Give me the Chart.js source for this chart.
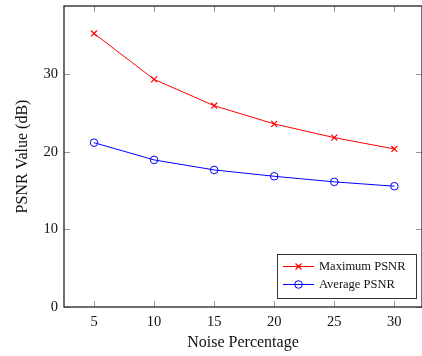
<!DOCTYPE html>
<html><head><meta charset="utf-8">
<script src="https://cdn.jsdelivr.net/npm/chart.js@4/dist/chart.umd.min.js"></script>
<style>html,body{margin:0;padding:0;background:#fff;overflow:hidden}#wrap{width:422px;height:356px}</style>
</head><body><div id="wrap"><canvas id="c" width="422" height="356"></canvas></div>
<script>
const noisePct = [5, 10, 15, 20, 25, 30];
const maxPSNR = [35.26, 29.34, 25.95, 23.6, 21.83, 20.37];
const avgPSNR = [21.18, 18.96, 17.67, 16.85, 16.13, 15.57];
const xTicks = [5, 10, 15, 20, 25, 30];
const yTicks = [0, 10, 20, 30];
const seriesNames = ['Maximum PSNR', 'Average PSNR'];

const FONT = '"Liberation Serif", "DejaVu Serif", serif';

const boxPlugin = {
  id: 'boxPlugin',
  beforeDatasetsDraw(chart) {
    const {ctx, chartArea: a, scales} = chart;
    ctx.save();
    ctx.strokeStyle = '#999';
    ctx.lineWidth = 1;
    const L = 6;
    ctx.beginPath();
    xTicks.forEach(v => {
      const x = Math.round(scales.x.getPixelForValue(v)) + 0.5;
      ctx.moveTo(x, a.bottom); ctx.lineTo(x, a.bottom - L);
      ctx.moveTo(x, a.top); ctx.lineTo(x, a.top + L);
    });
    yTicks.forEach(v => {
      const y = Math.round(scales.y.getPixelForValue(v)) + 0.5;
      ctx.moveTo(a.left, y); ctx.lineTo(a.left + L, y);
      ctx.moveTo(a.right, y); ctx.lineTo(a.right - L, y);
    });
    ctx.stroke();
    ctx.strokeStyle = '#222';
    ctx.lineWidth = 1.3;
    ctx.strokeRect(a.left, a.top, a.right - a.left, a.bottom - a.top);
    ctx.restore();
  },
  afterDatasetsDraw(chart) {
    const {ctx} = chart;
    ctx.save();
    const bx = 277, by = 254, bw = 139, bh = 44;
    ctx.fillStyle = '#fff';
    ctx.fillRect(bx, by, bw, bh);
    ctx.strokeStyle = '#333';
    ctx.lineWidth = 1;
    ctx.strokeRect(bx + 0.5, by + 0.5, bw, bh);
    const rows = [266.5, 284.5];
    chart.data.datasets.forEach((ds, i) => {
      const y = rows[i];
      ctx.strokeStyle = ds.borderColor;
      ctx.lineWidth = ds.borderWidth;
      ctx.beginPath(); ctx.moveTo(283, y); ctx.lineTo(314, y); ctx.stroke();
      ctx.fillStyle = 'rgba(0,0,0,0)';
      ctx.strokeStyle = ds.pointBorderColor;
      ctx.lineWidth = ds.pointBorderWidth;
      Chart.helpers.drawPoint(ctx, {
        pointStyle: ds.pointStyle, radius: ds.pointRadius, borderWidth: ds.pointBorderWidth, rotation: 0
      }, 298.5, y);
      ctx.fillStyle = '#111';
      ctx.font = '12.5px ' + FONT;
      ctx.textBaseline = 'middle';
      ctx.textAlign = 'left';
      ctx.fillText(ds.label, 319, y);
    });
    ctx.restore();
  }
};

function noPad(s) { s.paddingTop = 0; s.paddingBottom = 0; s.paddingLeft = 0; s.paddingRight = 0; }

new Chart(document.getElementById('c'), {
  type: 'line',
  data: {
    datasets: [
      {
        label: seriesNames[0],
        data: noisePct.map((x, i) => ({x, y: maxPSNR[i]})),
        borderColor: '#ff0000', backgroundColor: 'transparent',
        pointBorderColor: '#ff0000', pointBackgroundColor: 'transparent',
        borderWidth: 1, pointStyle: 'crossRot', pointRadius: 4.2, pointBorderWidth: 1.2,
        tension: 0
      },
      {
        label: seriesNames[1],
        data: noisePct.map((x, i) => ({x, y: avgPSNR[i]})),
        borderColor: '#0000ff', backgroundColor: 'transparent',
        pointBorderColor: '#0000ff', pointBackgroundColor: 'transparent',
        borderWidth: 1, pointStyle: 'circle', pointRadius: 3.8, pointBorderWidth: 1,
        tension: 0
      }
    ]
  },
  options: {
    responsive: false,
    animation: false,
    devicePixelRatio: 1,
    layout: {autoPadding: false, padding: {left: 8, right: -3, top: 6, bottom: 0}},
    plugins: {legend: {display: false}, tooltip: {enabled: false}},
    scales: {
      x: {
        type: 'linear', min: 2.5, max: 32.3,
        afterBuildTicks: s => { s.ticks = xTicks.map(v => ({value: v})); },
        afterFit: s => { s.height = 49; noPad(s); },
        grid: {display: false, drawTicks: false},
        border: {display: false},
        ticks: {padding: 6, color: '#111', font: {family: FONT, size: 14.5}},
        title: {display: true, text: 'Noise Percentage', color: '#111', font: {family: FONT, size: 16}, padding: {top: 0, bottom: 4}}
      },
      y: {
        type: 'linear', min: 0, max: 38.8,
        afterBuildTicks: s => { s.ticks = yTicks.map(v => ({value: v})); },
        afterFit: s => { s.width = 56; noPad(s); },
        grid: {display: false, drawTicks: false},
        border: {display: false},
        ticks: {padding: 6, color: '#111', font: {family: FONT, size: 14.5}},
        title: {display: true, text: 'PSNR Value (dB)', color: '#111', font: {family: FONT, size: 16}, padding: {top: 5, bottom: 0}}
      }
    }
  },
  plugins: [boxPlugin]
});
</script></body></html>
